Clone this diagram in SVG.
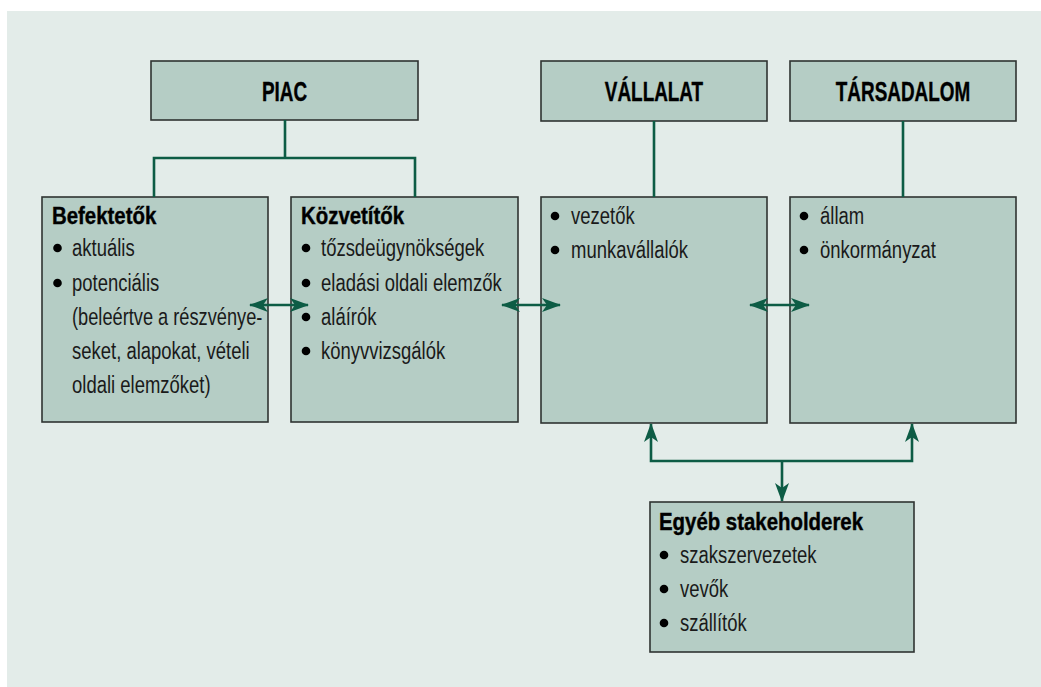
<svg xmlns="http://www.w3.org/2000/svg" width="1041" height="687" viewBox="0 0 1041 687">
<defs>
<style>
.bg{fill:#e3ece9}
.box{fill:#b5cdc5;stroke:#2f3431;stroke-width:1.6}
.t{font-family:"Liberation Sans",Arial,sans-serif;font-size:24px;fill:#1a1a1a}
.h{font-family:"Liberation Sans",Arial,sans-serif;font-size:24px;font-weight:bold;fill:#000;stroke:#000;stroke-width:0.4}
.hc{font-family:"Liberation Sans",Arial,sans-serif;font-size:27px;font-weight:bold;fill:#000;text-anchor:middle;stroke:#000;stroke-width:0.4}
.d{fill:#000}
.ln{fill:none;stroke:#0d5c45;stroke-width:2.6}
</style>
<marker id="ah" viewBox="0 0 19 14" refX="18" refY="7" markerWidth="19" markerHeight="14" markerUnits="userSpaceOnUse" orient="auto-start-reverse">
<path d="M0,0 L19,7 L0,14 L5,7 Z" fill="#0d5c45"/>
</marker>
</defs>
<rect class="bg" x="7" y="11" width="1034" height="676"/>

<g id="piac">
<rect class="box" x="151" y="61" width="267" height="59"/>
<text class="hc" transform="translate(284.5,101) scale(0.7,1)">PIAC</text>
</g>
<g id="vallalat">
<rect class="box" x="541" y="61" width="226" height="60"/>
<text class="hc" transform="translate(654,101) scale(0.7,1)">VÁLLALAT</text>
</g>
<g id="tarsadalom">
<rect class="box" x="790" y="61" width="226" height="60"/>
<text class="hc" transform="translate(903,101) scale(0.7,1)">TÁRSADALOM</text>
</g>

<g id="befektetok">
<rect class="box" x="42" y="197" width="226" height="225"/>
<text class="h" transform="translate(52,224) scale(0.85,1)">Befektetők</text>
<circle class="d" cx="57.5" cy="248" r="4.3"/><text class="t" transform="translate(72,256) scale(0.77,1)">aktuális</text>
<circle class="d" cx="57.5" cy="283" r="4.3"/><text class="t" transform="translate(72,291) scale(0.77,1)">potenciális</text>
<text class="t" transform="translate(72,325) scale(0.76,1)">(beleértve a részvénye-</text>
<text class="t" transform="translate(72,359) scale(0.77,1)">seket, alapokat, vételi</text>
<text class="t" transform="translate(72,393) scale(0.77,1)">oldali elemzőket)</text>
</g>

<g id="kozvetitok">
<rect class="box" x="291" y="197" width="227" height="225"/>
<text class="h" transform="translate(301,224) scale(0.85,1)">Közvetítők</text>
<circle class="d" cx="306" cy="248" r="4.3"/><text class="t" transform="translate(321,256) scale(0.77,1)">tőzsdeügynökségek</text>
<circle class="d" cx="306" cy="283" r="4.3"/><text class="t" transform="translate(321,291) scale(0.77,1)">eladási oldali elemzők</text>
<circle class="d" cx="306" cy="317" r="4.3"/><text class="t" transform="translate(321,325) scale(0.77,1)">aláírók</text>
<circle class="d" cx="306" cy="351" r="4.3"/><text class="t" transform="translate(321,359) scale(0.77,1)">könyvvizsgálók</text>
</g>

<g id="vallalat-tagok">
<rect class="box" x="541" y="197" width="226" height="226"/>
<circle class="d" cx="555" cy="216" r="4.3"/><text class="t" transform="translate(571,224) scale(0.77,1)">vezetők</text>
<circle class="d" cx="555" cy="250" r="4.3"/><text class="t" transform="translate(571,258) scale(0.77,1)">munkavállalók</text>
</g>

<g id="tarsadalom-tagok">
<rect class="box" x="790" y="197" width="226" height="226"/>
<circle class="d" cx="804" cy="216" r="4.3"/><text class="t" transform="translate(820,224) scale(0.77,1)">állam</text>
<circle class="d" cx="804" cy="250" r="4.3"/><text class="t" transform="translate(820,258) scale(0.77,1)">önkormányzat</text>
</g>

<g id="egyeb">
<rect class="box" x="650" y="502" width="264" height="150"/>
<text class="h" transform="translate(659,530) scale(0.85,1)">Egyéb stakeholderek</text>
<circle class="d" cx="664" cy="555" r="4.3"/><text class="t" transform="translate(680,563) scale(0.77,1)">szakszervezetek</text>
<circle class="d" cx="664" cy="589" r="4.3"/><text class="t" transform="translate(680,597) scale(0.77,1)">vevők</text>
<circle class="d" cx="664" cy="623" r="4.3"/><text class="t" transform="translate(680,631) scale(0.77,1)">szállítók</text>
</g>

<g id="connectors">
<path class="ln" d="M285,120 V158 M154,197 V158 H415 V197"/>
<path class="ln" d="M654,121 V197"/>
<path class="ln" d="M903,121 V197"/>
<path class="ln" d="M250,305 H308" marker-start="url(#ah)" marker-end="url(#ah)"/>
<path class="ln" d="M502,305 H560" marker-start="url(#ah)" marker-end="url(#ah)"/>
<path class="ln" d="M750,305 H809" marker-start="url(#ah)" marker-end="url(#ah)"/>
<path class="ln" d="M651,424 V461 H912 V424" marker-start="url(#ah)" marker-end="url(#ah)"/>
<path class="ln" d="M782,461 V501" marker-end="url(#ah)"/>
</g>
</svg>
